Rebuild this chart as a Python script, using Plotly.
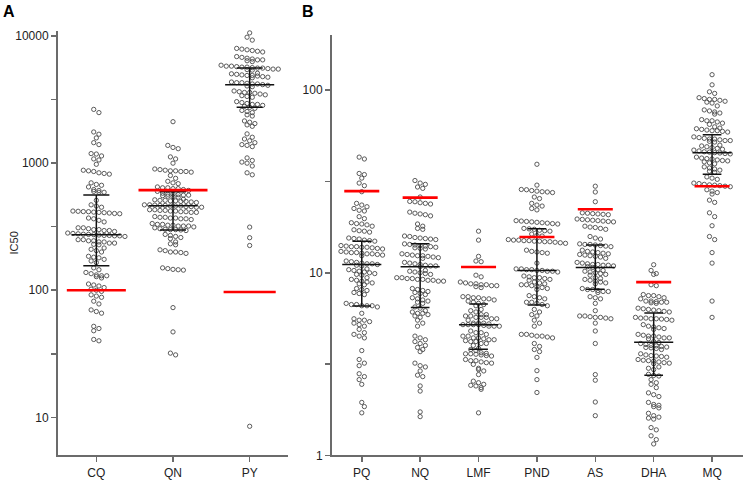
import math
import numpy as np
import plotly.graph_objects as go

W, H = 743, 485

# ---------------- data ----------------
cats_a = ["CQ", "QN", "PY"]
cats_b = ["PQ", "NQ", "LMF", "PND", "AS", "DHA", "MQ"]

cq = [2650, 2500, 1760, 1690, 1580, 1450, 1400, 1190, 1140, 1180, 1080, 980, 1060,
      880, 840, 820, 830, 860, 870, 700, 670, 650, 680, 610, 590, 590, 600, 620,
      510, 470, 450, 460, 420, 415, 410, 405, 400, 418, 412, 408, 402, 416,
      370, 355, 345, 365, 310, 300, 295, 305, 290, 300, 310, 295,
      280, 275, 272, 270, 268, 276, 265, 282, 274, 270, 278, 268,
      250, 245, 240, 235, 230, 245, 240, 235, 228, 250,
      215, 210, 205, 200, 185, 180, 175, 182, 170, 165,
      150, 145, 135, 130, 128, 132, 125, 130, 138, 112, 108, 105, 110, 102, 100, 98,
      90, 88, 92, 78, 82, 68, 66, 70, 50, 48, 52, 40, 41]

qn = [2120, 1380, 1300, 1330, 1120, 1080, 1000,
      880, 870, 860, 850, 890, 870, 860, 900, 800, 760, 720, 700, 690,
      650, 640, 630, 620, 610, 600, 640, 630,
      580, 570, 560, 550, 540, 560, 570, 545, 555, 565,
      520, 510, 500, 495, 505, 515, 490, 500, 510, 505,
      470, 465, 460, 455, 450, 460, 470, 465, 455, 460, 450, 468,
      430, 425, 420, 415, 410, 420, 430, 415, 425, 410,
      380, 375, 370, 365, 360, 370, 375, 365,
      330, 325, 320, 320, 330, 315, 325, 335, 320,
      305, 300, 295, 300, 310, 298, 302,
      270, 265, 260, 255, 275, 240, 232, 228,
      205, 198, 195, 200, 200, 208, 150, 145, 144, 146, 148, 73, 47, 31, 32]

py = [10600, 9800, 9300, 8000, 7800, 7600, 7900, 7500, 7700,
      6800, 6700, 6500, 6600, 6400, 6900, 6300, 6500,
      5800, 5700, 5600, 5500, 5750, 5650, 5550, 5450, 5900, 5600, 5700, 5500, 5800, 5400,
      5000, 4900, 4800, 5100, 4850, 4950, 4700, 5050, 4900, 4750,
      4300, 4200, 4100, 4250, 4150, 4000, 4350, 4200, 4050, 4300,
      3700, 3600, 3500, 3400, 3550, 3300, 3650, 3450, 3350, 3600,
      3000, 2900, 2850, 2800, 2950, 2750, 3050, 2700, 2900,
      2600, 2500, 2400, 2350, 2550, 2100, 2000, 1950, 2150, 2050,
      1700, 1600, 1500, 1450, 1550, 1400, 1350, 1380,
      1100, 1050, 1000, 950, 1020, 840, 810, 314, 259, 225, 8.5]

pq = [43, 42, 35, 34.5, 33, 31, 30, 27.8, 24, 23.5, 23, 22.5, 22, 21.8, 20.3, 19.8,
      18.8, 18.5, 18.3, 18.6, 18.0, 17.2, 16.9, 16.7, 17.0,
      15.5, 15.3, 15.0, 14.9, 15.4, 15.1,
      14.0, 13.8, 13.9, 13.6, 13.7, 14.1, 13.5, 13.8, 13.9,
      13.1, 12.9, 12.7, 12.8, 12.5, 12.6, 13.0, 12.7, 12.4, 12.9,
      11.6, 11.4, 11.2, 11.0, 11.3, 11.1, 11.5, 10.9, 11.2,
      10.5, 10.3, 10.2, 10.0, 9.8, 10.4, 9.9, 10.1, 9.7,
      9.4, 9.2, 9.0, 8.8, 8.6, 9.1, 8.9, 8.7,
      8.2, 8.0, 7.8, 7.6, 8.1, 7.7,
      6.7, 6.6, 6.6, 6.5, 6.7, 6.6, 6.8, 6.0,
      5.6, 5.5, 5.4, 5.3, 5.2, 5.1, 5.5, 4.9, 4.7, 4.6, 4.5, 4.4,
      3.75, 3.35, 3.2, 3.1, 2.8, 2.7, 2.6, 2.45, 1.95, 1.85, 1.71]

nq = [32, 31, 30.5, 29.5, 29.0, 26, 24.5, 24.2, 23.8, 24.0, 24.6,
      21.5, 21.2, 20.8, 20.5, 21.0, 18.5, 18.0, 17.5, 17.3,
      15.8, 15.6, 15.4, 15.2, 15.9, 15.5, 15.3,
      14.4, 14.2, 14.0, 13.8, 13.6, 14.3, 13.9, 13.7, 14.1, 13.5,
      12.6, 12.4, 12.3, 12.1, 12.5, 12.2, 12.0, 12.4, 12.7,
      11.3, 11.0, 10.9, 11.2, 10.8, 11.1, 11.4, 10.9,
      10.3, 10.1, 9.9, 10.0, 10.2, 9.8,
      9.4, 9.3, 9.2, 9.1, 9.0, 9.3, 9.2, 9.1, 9.4, 9.0,
      8.1, 8.0, 7.8, 7.9, 7.7, 8.2, 7.6,
      7.3, 7.1, 7.0, 6.9, 7.2, 6.8, 6.5, 6.4,
      6.2, 6.0, 5.9, 5.8, 6.1, 5.7, 6.0, 5.5, 5.3, 5.1, 4.5, 4.4,
      4.3, 4.1, 4.0, 3.9, 3.8, 4.2, 3.7, 3.2, 3.1, 3.05, 2.9, 2.75, 2.7, 2.4, 2.25, 1.73, 1.63]

lmf = [16.9, 15.1, 12.3, 11.5, 11.6, 9.7, 9.5,
       8.8, 8.7, 8.6, 8.5, 8.4, 8.5, 8.6, 8.3, 8.7, 8.9,
       7.4, 7.3, 7.2, 7.1, 7.0, 7.3, 7.2, 7.4,
       6.8, 6.7, 6.6, 6.9, 6.3, 6.2, 6.1,
       5.9, 5.8, 5.7, 5.6, 5.8, 5.7, 5.6, 5.9, 5.5, 5.7,
       5.3, 5.2, 5.2, 5.1, 5.3, 5.2, 5.1, 5.25, 5.15, 5.3, 5.2, 5.1,
       4.8, 4.7, 4.6, 4.5, 4.7,
       4.5, 4.4, 4.3, 4.35, 4.25, 4.2, 4.1, 4.3, 4.2, 4.0, 4.4, 4.1,
       3.85, 3.8, 3.75, 3.65, 3.6, 3.55, 3.6, 3.5, 3.62, 3.58, 3.52,
       3.35, 3.3, 3.25, 3.2, 3.3, 3.15, 3.22, 3.0, 2.95, 2.9, 2.77,
       2.55, 2.5, 2.45, 2.4, 2.35, 2.3, 2.42, 1.71]

pnd = [39.3, 30.2, 28.5, 28.2, 27.8, 27.5, 28.0, 28.6, 27.7, 26.0, 25.5,
       24.0, 23.2, 23.5, 22.5, 22.1,
       19.3, 19.0, 18.8, 18.6, 19.1, 18.5, 18.9, 19.2, 18.7,
       17.5, 17.3, 17.1, 17.4, 16.9, 17.0, 16.3, 16.0, 15.9,
       15.2, 15.0, 14.9, 14.7, 15.1, 14.8, 14.6, 15.0, 14.9, 14.5, 15.1, 14.8,
       13.3, 13.1, 13.0, 12.8, 12.9, 11.3,
       10.5, 10.4, 10.3, 10.2, 10.3, 10.4, 10.2, 10.1, 10.5,
       9.6, 9.4, 9.3, 9.2, 9.5, 9.1, 9.4,
       8.9, 8.7, 8.6, 8.5, 8.4, 8.3, 8.6, 8.2, 8.8, 8.1,
       7.5, 7.3, 7.2, 7.4, 6.9, 6.8, 6.7, 6.6, 6.9,
       6.3, 6.1, 5.9, 5.8, 5.5, 5.3, 5.1,
       4.6, 4.55, 4.5, 4.45, 4.5, 4.6, 4.4,
       4.1, 3.95, 3.8, 3.7, 3.44, 2.91, 2.6, 2.21]

as_vals = [29.8, 27.7, 24.5, 21.2, 21.0, 20.9, 21.1, 20.8, 21.3,
           19.6, 19.4, 19.2, 19.0, 19.5, 19.3, 19.1, 19.7,
           18.0, 17.7, 17.5, 17.3, 17.8, 15.8, 15.5, 15.3,
           14.4, 14.3, 14.1, 14.0, 13.9, 14.2, 14.3,
           13.3, 13.1, 12.9, 12.7, 12.5, 12.3, 12.8, 12.6, 12.4, 12.2, 13.0, 12.0,
           11.4, 11.2, 11.1, 11.0, 10.9, 10.8, 11.3, 11.0, 10.7, 11.1,
           10.4, 10.2, 10.0, 9.9, 9.8, 10.1, 9.7, 10.3,
           9.4, 9.2, 9.0, 8.9, 8.8, 9.1, 8.7, 9.3,
           8.2, 8.1, 8.0, 7.9, 7.8, 8.1, 7.9, 7.4, 7.3, 7.2, 6.8, 6.2,
           5.8, 5.75, 5.7, 5.65, 5.7, 5.6, 5.8, 5.3, 4.8, 4.1, 2.77, 2.58, 1.96, 1.65]

dha = [11.07, 10.3, 9.9, 9.8, 8.6, 8.5,
       7.6, 7.5, 7.4, 7.3, 7.5, 7.2,
       7.0, 6.95, 6.9, 6.85, 6.8, 6.9, 7.0,
       6.4, 6.3, 6.2, 6.1, 6.25, 6.15, 6.35,
       5.7, 5.65, 5.6, 5.55, 5.6, 5.5, 5.65, 5.58,
       5.2, 5.1, 5.0, 4.9, 5.05, 4.95,
       4.6, 4.55, 4.5, 4.4, 4.45, 4.35, 4.5, 4.4, 4.2, 4.15, 4.1,
       4.05, 4.0, 3.95, 3.9, 3.85, 3.8, 3.92, 3.88, 3.98,
       3.6, 3.55, 3.5, 3.45, 3.52, 3.48,
       3.35, 3.3, 3.25, 3.2, 3.28, 3.22, 3.32, 3.18,
       3.05, 3.0, 2.95, 2.78, 2.74, 2.72, 2.6, 2.5, 2.45, 2.35,
       2.2, 2.15, 2.1, 1.95, 1.9, 1.88, 1.82, 1.85,
       1.7, 1.65, 1.6, 1.58, 1.62, 1.42, 1.38, 1.28, 1.22, 1.155]

mq = [121.6, 107, 98, 96, 90, 89, 88, 87, 86, 89, 91, 85, 82,
      78, 76, 75, 77, 74, 69, 68, 67, 66, 65, 68,
      62, 61, 60, 59, 60.5, 61.5, 59.5, 63, 60,
      55, 54, 53.5, 53, 52.5, 54.5, 53, 52, 55.5, 54,
      50, 49, 48, 47.5, 47, 48.5, 49.5, 46.5,
      46, 45.5, 45, 45.3, 45.8, 44.8,
      43, 42.5, 42, 41.5, 41, 40.5, 40, 42.2, 41.2, 39.5,
      38, 37.5, 37, 36.5, 36, 35.5, 33.5, 33, 32.5,
      31, 30.5, 30.3, 30, 29.8, 30.2, 30.8, 29.6,
      28.5, 28, 27.5, 27, 25, 24.3, 21.3, 20.3, 18.1, 15.8, 15.2, 12.9, 11.3, 7.0, 5.7]

# summary statistics drawn as bars (median, quartiles) and threshold lines
med_a = [273, 462, 4150]
q1_a = [156, 298, 2750]
q3_a = [561, 595, 5600]
thr_a = [100, 614, 97]

med_b = [11.1, 10.8, 5.2, 10.3, 10.7, 4.16, 45.5]
q1_b = [6.58, 6.46, 3.81, 6.66, 8.13, 2.75, 34.7]
q3_b = [14.9, 14.4, 6.74, 17.4, 14.2, 6.03, 57]
thr_b = [28.0, 25.8, 10.75, 15.7, 22.3, 8.89, 29.8]

series_a = [cq, qn, py]
series_b = [pq, nq, lmf, pnd, as_vals, dha, mq]

# ---------------- layout geometry (pixels) ----------------
A_X0, A_X1 = 58, 288
B_X0, B_X1 = 332, 743
A_Y0, A_Y1 = 30, 462        # top, bottom
B_Y0, B_Y1 = 35, 462
A_XR = [-0.5, 2.5]
B_XR = [-0.51, 6.53]
A_YR = [0.7005, 4.044]
B_YR = [0.0, 2.30]

AXIS_COL = "#6b6b6b"
PT_COL = "#4a4a4a"


def row_swarm(vals, ppd, dx, binh, dmin):
    """Prism-like scatter layout: points that nearly share a height are
    spread side by side in a row. Returns horizontal pixel offsets."""
    ys = np.log10(np.asarray(vals, float)) * ppd
    order = list(np.argsort(-ys, kind="stable"))
    xs = np.zeros(len(ys))
    rows, cur, start = [], [], None
    for i in order:
        if start is None or start - ys[i] > binh:
            if cur:
                rows.append(cur)
            cur, start = [i], ys[i]
        else:
            cur.append(i)
    if cur:
        rows.append(cur)
    prev = []
    for r in rows:
        n = len(r)
        base = [(k - (n - 1) / 2.0) * dx for k in range(n)]
        best, best_bad = None, None
        for shift in (0.0, dx / 2.0, -dx / 2.0):
            offs = [b + shift for b in base]
            bad = 0
            for idx, o in zip(r, offs):
                for pidx in prev:
                    if (o - xs[pidx]) ** 2 + (ys[idx] - ys[pidx]) ** 2 < dmin ** 2:
                        bad += 1
            if best_bad is None or bad < best_bad:
                best, best_bad = offs, bad
        for idx, o in zip(r, best):
            xs[idx] = o
        prev = r
    return xs


fig = go.Figure()


def add_panel(series, cats, med, q1, q3, thr, xr, yr, x0, x1, y0, y1,
              xa, ya, medw, capw, thrw):
    ppc = (x1 - x0) / (xr[1] - xr[0])
    ppd = (y1 - y0) / (yr[1] - yr[0])
    for i, vals in enumerate(series):
        off = row_swarm(vals, ppd, 5.2, 4.0, 4.4) / ppc
        fig.add_trace(go.Scatter(
            x=i + off, y=vals, mode="markers", xaxis=xa, yaxis=ya,
            marker=dict(symbol="circle-open", size=4.3, color=PT_COL,
                        line=dict(width=0.9, color=PT_COL)),
            hoverinfo="y", showlegend=False, cliponaxis=False))
    bx, by = [], []
    for i in range(len(cats)):
        bx += [i, i, None]
        by += [q1[i], q3[i], None]
        for v in (q1[i], q3[i]):
            bx += [i - capw, i + capw, None]
            by += [v, v, None]
        bx += [i - medw, i + medw, None]
        by += [med[i], med[i], None]
    fig.add_trace(go.Scatter(x=bx, y=by, mode="lines", xaxis=xa, yaxis=ya,
                             line=dict(color="#111111", width=1.5),
                             hoverinfo="skip", showlegend=False))
    rx, ry = [], []
    for i in range(len(cats)):
        rx += [i - thrw[i], i + thrw[i], None]
        ry += [thr[i], thr[i], None]
    fig.add_trace(go.Scatter(x=rx, y=ry, mode="lines", xaxis=xa, yaxis=ya,
                             line=dict(color="#ff0000", width=2.6),
                             hoverinfo="skip", showlegend=False))


add_panel(series_a, cats_a, med_a, q1_a, q3_a, thr_a, A_XR, A_YR,
          A_X0, A_X1, A_Y0, A_Y1, "x", "y", 0.32, 0.17, [0.385, 0.45, 0.34])
add_panel(series_b, cats_b, med_b, q1_b, q3_b, thr_b, B_XR, B_YR,
          B_X0, B_X1, B_Y0, B_Y1, "x2", "y2", 0.335, 0.16, [0.3] * 7)

tickfont = dict(family="Liberation Sans, Arial, sans-serif", size=12, color="#222222")

common_x = dict(showline=True, linecolor=AXIS_COL, linewidth=2, ticks="outside",
                ticklen=5, tickwidth=1.5, tickcolor=AXIS_COL, showgrid=False,
                zeroline=False, tickfont=tickfont, fixedrange=True)
common_y = dict(type="log", showline=True, linecolor=AXIS_COL, linewidth=2,
                ticks="outside", ticklen=5, tickwidth=1.5, tickcolor=AXIS_COL,
                showgrid=False, zeroline=False, tickfont=tickfont, fixedrange=True)

ytv_a = [10, 10 ** 1.5, 100, 10 ** 2.5, 1000, 10 ** 3.5, 10000]
ytt_a = ["10", "", "100", "", "1000", "", "10000"]
ytv_b = [1, 10 ** 0.5, 10, 10 ** 1.5, 100]
ytt_b = ["1", "", "10", "", "100"]

fig.update_layout(
    width=W, height=H, margin=dict(l=0, r=0, t=0, b=0),
    paper_bgcolor="white", plot_bgcolor="white", showlegend=False,
    xaxis=dict(common_x, domain=[A_X0 / W, A_X1 / W], range=A_XR,
               tickmode="array", tickvals=list(range(len(cats_a))), ticktext=cats_a,
               anchor="y"),
    yaxis=dict(common_y, domain=[1 - A_Y1 / H, 1 - A_Y0 / H], range=A_YR,
               tickmode="array", tickvals=ytv_a, ticktext=ytt_a, anchor="x"),
    xaxis2=dict(common_x, domain=[B_X0 / W, B_X1 / W], range=B_XR,
                tickmode="array", tickvals=list(range(len(cats_b))), ticktext=cats_b,
                anchor="y2"),
    yaxis2=dict(common_y, domain=[1 - B_Y1 / H, 1 - B_Y0 / H], range=B_YR,
                tickmode="array", tickvals=ytv_b, ticktext=ytt_b, anchor="x2"),
    annotations=[
        dict(text="<b>A</b>", x=1 / W, y=1.0, xref="paper", yref="paper",
             xanchor="left", yanchor="top", showarrow=False,
             font=dict(family="Liberation Sans, Arial, sans-serif", size=16, color="black")),
        dict(text="<b>B</b>", x=300 / W, y=1.0, xref="paper", yref="paper",
             xanchor="left", yanchor="top", showarrow=False,
             font=dict(family="Liberation Sans, Arial, sans-serif", size=16, color="black")),
        dict(text="IC50", x=13.5 / W, y=1 - 246 / H, xref="paper", yref="paper",
             xanchor="center", yanchor="middle", showarrow=False, textangle=-90,
             font=dict(family="Liberation Sans, Arial, sans-serif", size=11, color="#222222")),
    ],
)

fig.write_html("out.html",
               config={"displayModeBar": False, "staticPlot": True},
               post_script="document.body.style.margin='0px';"
                           "document.body.style.overflow='hidden';")
